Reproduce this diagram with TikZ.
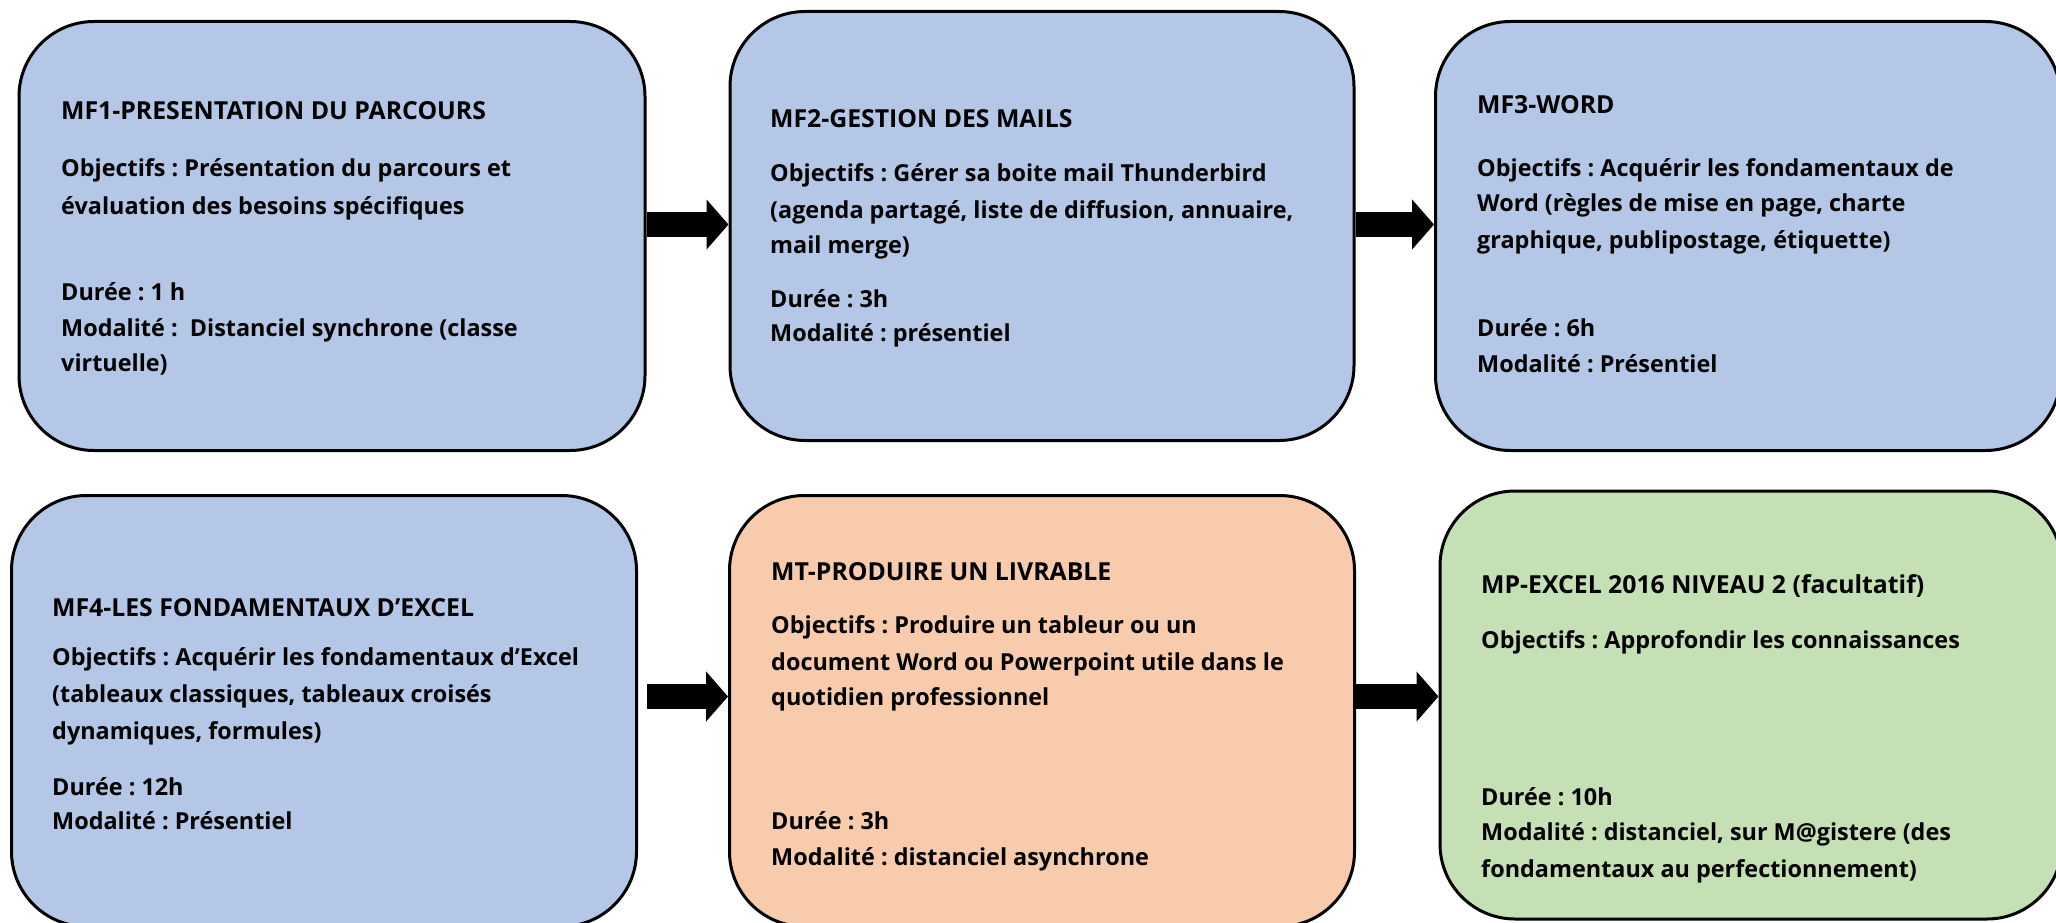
\documentclass[tikz,border=0pt]{standalone}
\usepackage{fontspec}
\setmainfont{Open Sans}
\usetikzlibrary{arrows.meta}
\definecolor{blueF}{HTML}{B4C7E7}
\definecolor{orangeF}{HTML}{F8CBAD}
\definecolor{greenF}{HTML}{C5E0B4}
\tikzset{
  bx/.style={draw=black, line width=3pt, rounded corners=75pt, inner sep=0pt},
  txt/.style={anchor=base west, inner sep=0pt, font=\fontsize{23.4}{28}\selectfont\bfseries},
  ttl/.style={txt, font=\fontsize{24.8}{29}\selectfont\bfseries},
  arr/.style={line width=25pt, line cap=butt, -{Triangle[length=22pt,width=49pt]}}
}
\frenchspacing
\begin{document}
\begin{tikzpicture}[x=1pt,y=-1pt]
\useasboundingbox (0,0) rectangle (2056,923);
% boxes
\node[bx, fill=blueF, minimum width=626pt, minimum height=429pt] (b1) at (332,236) {};
\node[bx, fill=blueF, minimum width=624pt, minimum height=429pt] (b2) at (1042,226) {};
\node[bx, fill=blueF, minimum width=625pt, minimum height=429pt] (b3) at (1748,236) {};
\node[bx, fill=blueF, minimum width=625pt, minimum height=431pt] (b4) at (324,711) {};
\node[bx, fill=orangeF, minimum width=625pt, minimum height=431pt] (b5) at (1042,711) {};
\node[bx, fill=greenF, minimum width=622pt, minimum height=428pt] (b6) at (1751,705) {};
% arrow levels
\coordinate (r1) at (0,224.5);
\coordinate (r2) at (0,696.5);
\draw[arr] (b1.east |- r1) -- (b2.west |- r1);
\draw[arr] (b2.east |- r1) -- (b3.west |- r1);
\draw[arr, shorten <=9pt] (b4.east |- r2) -- (b5.west |- r2);
\draw[arr] (b5.east |- r2) -- (b6.west |- r2);
% box 1
\node[ttl] (t1a) at (61,120) {MF1-PRESENTATION DU PARCOURS};
\node[txt] (t1b) at (61,176) {Objectifs : Présentation du parcours et};
\node[txt] (t1c) at (61,214) {évaluation des besoins spécifiques};
\node[txt] (t1d) at (61,300) {Durée : 1 h};
\node[txt] (t1e) at (61,336) {Modalité :\ \ Distanciel synchrone (classe};
\node[txt] (t1f) at (61,371) {virtuelle)};
% box 2
\node[ttl] (t2a) at (770,128) {MF2-GESTION DES MAILS};
\node[txt] (t2b) at (770,182) {Objectifs : Gérer sa boite mail Thunderbird};
\node[txt] (t2c) at (770,218) {(agenda partagé, liste de diffusion, annuaire,};
\node[txt] (t2d) at (770,253) {mail merge)};
\node[txt] (t2e) at (770,307) {Durée : 3h};
\node[txt] (t2f) at (770,341) {Modalité : présentiel};
% box 3
\node[ttl] (t3a) at (1477,114) {MF3-WORD};
\node[txt] (t3b) at (1477,176) {Objectifs : Acquérir les fondamentaux de};
\node[txt] (t3c) at (1477,211) {Word (règles de mise en page, charte};
\node[txt] (t3d) at (1477,248) {graphique, publipostage, étiquette)};
\node[txt] (t3e) at (1477,336) {Durée : 6h};
\node[txt] (t3f) at (1477,372) {Modalité : Présentiel};
% box 4
\node[ttl] (t4a) at (52,616) {MF4-LES FONDAMENTAUX D’EXCEL};
\node[txt] (t4b) at (52,665) {Objectifs : Acquérir les fondamentaux d’Excel};
\node[txt] (t4c) at (52,702) {(tableaux classiques, tableaux croisés};
\node[txt] (t4d) at (52,739) {dynamiques, formules)};
\node[txt] (t4e) at (52,795) {Durée : 12h};
\node[txt] (t4f) at (52,829) {Modalité : Présentiel};
% box 5
\node[ttl] (t5a) at (771,580) {MT-PRODUIRE UN LIVRABLE};
\node[txt] (t5b) at (771,633) {Objectifs : Produire un tableur ou un};
\node[txt] (t5c) at (771,670) {document Word ou Powerpoint utile dans le};
\node[txt] (t5d) at (771,705) {quotidien professionnel};
\node[txt] (t5e) at (771,829) {Durée : 3h};
\node[txt] (t5f) at (771,865) {Modalité : distanciel asynchrone};
% box 6
\node[ttl] (t6a) at (1481,593) {MP-EXCEL 2016 NIVEAU 2 (facultatif)};
\node[txt] (t6b) at (1481,648) {Objectifs : Approfondir les connaissances};
\node[txt] (t6c) at (1481,805) {Durée : 10h};
\node[txt] (t6d) at (1481,840) {Modalité : distanciel, sur M@gistere (des};
\node[txt] (t6e) at (1481,877) {fondamentaux au perfectionnement)};
\end{tikzpicture}
\end{document}
